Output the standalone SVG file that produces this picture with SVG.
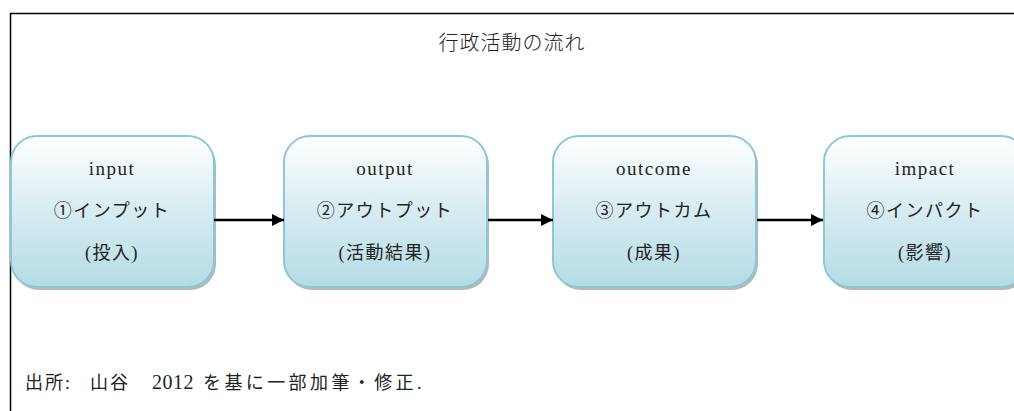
<svg xmlns="http://www.w3.org/2000/svg" width="1014" height="411" viewBox="0 0 1014 411">
<defs>
<linearGradient id="g" x1="0" y1="0" x2="0" y2="1">
<stop offset="0" stop-color="#ffffff"/>
<stop offset="0.5" stop-color="#d6ecf1"/>
<stop offset="1" stop-color="#b5dbe5"/>
</linearGradient>
<marker id="ah" markerWidth="12" markerHeight="12" refX="12" refY="6" orient="auto" markerUnits="userSpaceOnUse">
<path d="M0,0 L12,6 L0,12 Z" fill="#000"/>
</marker>
<style>
.box{fill:url(#g);stroke:#8cc7d6;stroke-width:2}
.sh{fill:#9fa9ad;opacity:0.8}
.t{font-family:"Liberation Serif","Noto Sans CJK JP",serif;font-size:18px;fill:#222;text-anchor:middle}
.en{font-size:19px;letter-spacing:1.5px}
.jp{letter-spacing:1.5px}
.c{stroke:#000;stroke-width:2.5;fill:none;marker-end:url(#ah)}
</style>
</defs>
<rect width="1014" height="411" fill="#fff"/>
<path d="M10.5,411 V13.5 H1014" fill="none" stroke="#000" stroke-width="1.5"/>
<text x="512" y="50" class="t" style="font-size:20px;font-family:'Noto Sans CJK JP',sans-serif;font-weight:300;letter-spacing:1px">行政活動の流れ</text>
<g id="n1">
<rect x="13" y="139" width="203" height="151" rx="26" class="sh"/>
<rect x="11" y="136" width="203" height="151" rx="26" class="box"/>
<text x="112" y="175" class="t en">input</text>
<text x="112" y="217" class="t jp">①インプット</text>
<text x="112" y="259" class="t jp">(投入)</text>
</g>
<g id="n2">
<rect x="286" y="139" width="203" height="151" rx="26" class="sh"/>
<rect x="284" y="136" width="203" height="151" rx="26" class="box"/>
<text x="385" y="175" class="t en">output</text>
<text x="385" y="217" class="t jp">②アウトプット</text>
<text x="385" y="259" class="t jp">(活動結果)</text>
</g>
<g id="n3">
<rect x="555" y="139" width="203" height="151" rx="26" class="sh"/>
<rect x="553" y="136" width="203" height="151" rx="26" class="box"/>
<text x="654" y="175" class="t en">outcome</text>
<text x="654" y="217" class="t jp">③アウトカム</text>
<text x="654" y="259" class="t jp">(成果)</text>
</g>
<g id="n4">
<rect x="826" y="139" width="203" height="151" rx="26" class="sh"/>
<rect x="824" y="136" width="203" height="151" rx="26" class="box"/>
<text x="925" y="175" class="t en">impact</text>
<text x="925" y="217" class="t jp">④インパクト</text>
<text x="925" y="259" class="t jp">(影響)</text>
</g>
<g id="connectors">
<line x1="214" y1="220" x2="284" y2="220" class="c"/>
<line x1="488" y1="220" x2="553" y2="220" class="c"/>
<line x1="757" y1="220" x2="823" y2="220" class="c"/>
</g>
<text y="389" class="t" style="text-anchor:start;letter-spacing:2px"><tspan x="25">出所: </tspan><tspan x="90">山谷 </tspan><tspan x="152" style="font-size:20px;letter-spacing:0.5px">2012 </tspan><tspan x="203" style="letter-spacing:3.4px">を基に一部加筆・修正.</tspan></text>
</svg>
